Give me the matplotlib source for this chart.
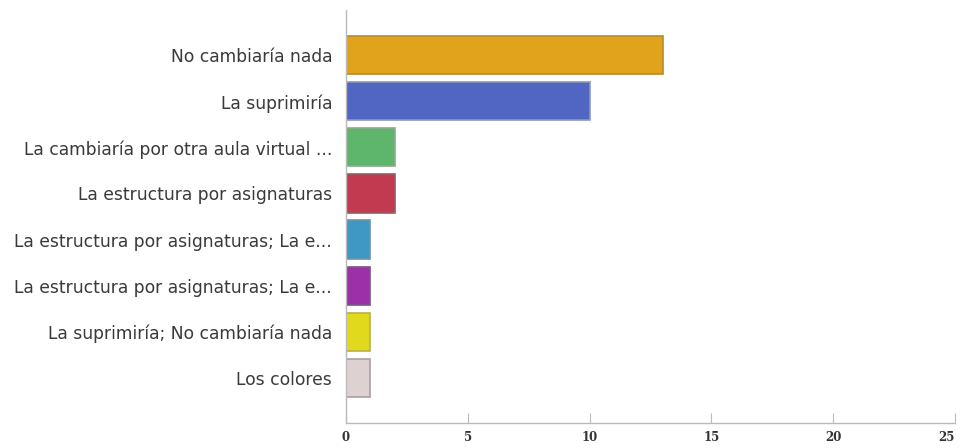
import matplotlib
matplotlib.use("Agg")
import matplotlib.pyplot as plt

categories = [
    "No cambiaría nada",
    "La suprimiría",
    "La cambiaría por otra aula virtual ...",
    "La estructura por asignaturas",
    "La estructura por asignaturas; La e...",
    "La estructura por asignaturas; La e...",
    "La suprimiría; No cambiaría nada",
    "Los colores",
]
values = [13, 10, 2, 2, 1, 1, 1, 1]
colors = ["#E2A31C", "#5166C2", "#5DB66B", "#C23A50", "#3F97C4", "#9B30A8", "#E0D91C", "#DDD1D1"]
edges = ["#B98A2A", "#8E98B8", "#8EAA90", "#9A5A63", "#6C95AA", "#7A5683", "#B5B04A", "#A8A0A0"]
xticks = [0, 5, 10, 15, 20, 25]

fig = plt.figure(figsize=(9.62, 4.48), dpi=100)
ax = fig.add_axes([346/962, 25/448, 609/962, 413/448])
y = list(range(len(categories)))
ax.barh(y, values, height=0.83, color=colors, edgecolor=edges, linewidth=1.2)
ax.set_xlim(0, 25)
ax.set_ylim(7.98, -0.98)
ax.set_yticks(y)
ax.set_yticklabels(categories, fontsize=12.3, color="#3a3a3a")
ax.tick_params(axis="y", length=0, pad=10)
ax.set_xticks(xticks)
ax.set_xticklabels([str(t) for t in xticks], family="DejaVu Serif", fontweight="bold", fontsize=8.5, color="#333333")
ax.get_xticklabels()[-1].set_horizontalalignment("right")
ax.tick_params(axis="x", direction="in", length=7, color="#BBBBBB", pad=6)
for s in ["top", "right"]:
    ax.spines[s].set_visible(False)
for s in ["left", "bottom"]:
    ax.spines[s].set_color("#BBBBBB")
    ax.spines[s].set_linewidth(1)
fig.savefig("out.png", dpi=100)
